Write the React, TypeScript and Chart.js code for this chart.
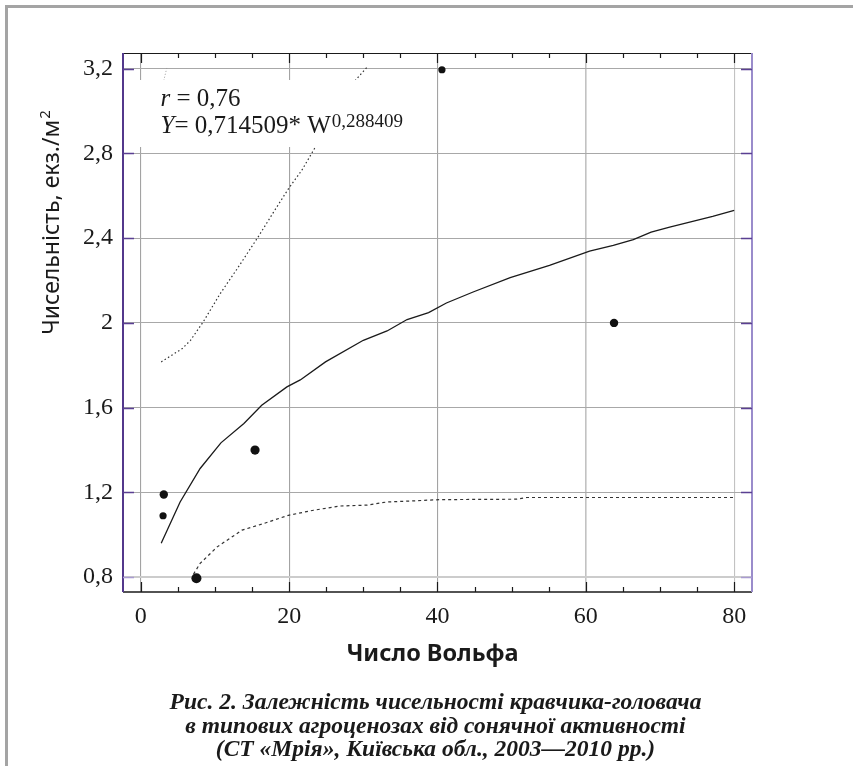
import React, { useEffect, useRef } from 'react';
import { Chart, registerables } from 'chart.js';
Chart.register(...registerables);

// Observed points: Wolf number vs. abundance
const obsW = [3.1, 3.0, 7.5, 15.4, 40.6, 63.8];
const obsY = [1.19, 1.09, 0.795, 1.4, 3.195, 2.0];
const obsR = [4.2, 3.6, 5, 4.6, 3.6, 4.2];

// Fitted curve
const fitW = [2.75, 5.3, 8.0, 10.8, 13.9, 16.3, 19.7, 21.5, 24.9, 30.0, 33.2, 35.9, 38.8, 41.2, 44.8, 49.8, 55.1, 60.5, 63.7, 66.4, 68.8, 71.3, 77.1, 80.0];
const fitY = [0.96, 1.155, 1.313, 1.434, 1.525, 1.611, 1.698, 1.731, 1.816, 1.918, 1.962, 2.016, 2.049, 2.094, 2.146, 2.214, 2.272, 2.339, 2.366, 2.393, 2.429, 2.452, 2.503, 2.531];

// Upper confidence band
const upW = [2.75, 5.6, 6.7, 8.4, 10.7, 13.0, 15.75, 17.9, 19.9, 21.7, 23.4, 28.9, 30.5];
const upY = [1.816, 1.879, 1.918, 2.004, 2.138, 2.256, 2.402, 2.523, 2.633, 2.72, 2.822, 3.144, 3.207];

// Lower confidence band
const loW = [7.1, 8.0, 10.3, 13.65, 16.55, 19.9, 23.3, 26.9, 30.5, 33.2, 36.7, 40.3, 50.7, 52.0, 80.0];
const loY = [0.814, 0.865, 0.943, 1.022, 1.053, 1.092, 1.116, 1.136, 1.14, 1.155, 1.16, 1.166, 1.168, 1.176, 1.176];

// Faint dotted fragment near top-left
const faintW = [3.0, 3.55];
const faintY = [3.13, 3.21];

const xTicks = [0, 20, 40, 60, 80];
const xTickLabels = ['0', '20', '40', '60', '80'];
const xMinorTicks = [5, 10, 15, 25, 30, 35, 45, 50, 55, 65, 70, 75];
const yTicks = [0.8, 1.2, 1.6, 2.0, 2.4, 2.8, 3.2];
const yTickLabels = ['0,8', '1,2', '1,6', '2', '2,4', '2,8', '3,2'];

const xTitle = 'Число Вольфа';
const yTitle = 'Чисельність, екз./м';
const yTitleSup = '2';
const annR = ['r', ' = 0,76'];
const annY = ['Y', '= 0,714509* W', '0,288409'];
const caption = [
  'Рис. 2. Залежність чисельності кравчика-головача',
  'в типових агроценозах від сонячної активності',
  '(СТ «Мрія», Київська обл., 2003—2010 рр.)',
];

const SERIF = "'Liberation Serif', 'Times New Roman', serif";
const SANS = "'Noto Sans', 'DejaVu Sans', sans-serif";

const pts = (xs: number[], ys: number[]) => xs.map((v, i) => ({ x: v, y: ys[i] }));

const decor = {
  id: 'decor',
  afterDatasetsDraw(chart: any) {
    const { ctx, chartArea: a, scales } = chart;
    const x = scales.x;
    const y = scales.y;
    ctx.save();
    // white box behind annotation
    ctx.fillStyle = '#ffffff';
    ctx.fillRect(a.left + 5, a.top + 27, 285, 67);
    // annotation text
    const x0 = a.left + 37.5;
    const b1 = a.top + 52.5;
    const b2 = a.top + 79.5;
    ctx.fillStyle = '#1a1a1a';
    ctx.textBaseline = 'alphabetic';
    ctx.textAlign = 'left';
    ctx.font = `italic 25px ${SERIF}`;
    ctx.fillText(annR[0], x0, b1);
    let w = ctx.measureText(annR[0]).width;
    ctx.font = `25px ${SERIF}`;
    ctx.fillText(annR[1], x0 + w, b1);
    ctx.font = `italic 25px ${SERIF}`;
    ctx.fillText(annY[0], x0, b2);
    w = ctx.measureText(annY[0]).width;
    ctx.font = `25px ${SERIF}`;
    ctx.fillText(annY[1], x0 + w, b2);
    w += ctx.measureText(annY[1]).width;
    ctx.font = `19px ${SERIF}`;
    ctx.fillText(annY[2], x0 + w + 1, b2 - 6);

    // axis lines
    ctx.lineCap = 'butt';
    ctx.strokeStyle = '#1a1a1a';
    ctx.lineWidth = 1.5;
    ctx.beginPath();
    ctx.moveTo(a.left, a.bottom);
    ctx.lineTo(a.right, a.bottom);
    ctx.stroke();
    ctx.lineWidth = 1;
    ctx.beginPath();
    ctx.moveTo(a.left, a.top + 0.5);
    ctx.lineTo(a.right, a.top + 0.5);
    ctx.stroke();
    ctx.strokeStyle = '#53388c';
    ctx.lineWidth = 2;
    ctx.beginPath();
    ctx.moveTo(a.left, a.top);
    ctx.lineTo(a.left, a.bottom);
    ctx.stroke();
    ctx.strokeStyle = '#9a8ccb';
    ctx.beginPath();
    ctx.moveTo(a.right, a.top);
    ctx.lineTo(a.right, a.bottom);
    ctx.stroke();

    // x ticks (bottom up, top down)
    ctx.strokeStyle = '#1a1a1a';
    ctx.lineWidth = 1.2;
    const drawX = (v: number, len: number) => {
      const px = Math.round(x.getPixelForValue(v)) + 0.5;
      ctx.beginPath();
      ctx.moveTo(px, a.bottom);
      ctx.lineTo(px, a.bottom - len);
      ctx.moveTo(px, a.top);
      ctx.lineTo(px, a.top + len);
      ctx.stroke();
    };
    xTicks.forEach((v) => drawX(v, 10));
    xMinorTicks.forEach((v) => drawX(v, 5));
    // y ticks (purple)
    ctx.lineWidth = 1.5;
    yTicks.forEach((v) => {
      const py = Math.round(y.getPixelForValue(v)) + 0.5;
      ctx.strokeStyle = v === 0.8 ? '#a99bd0' : '#5a3f92';
      ctx.beginPath();
      ctx.moveTo(a.left, py);
      ctx.lineTo(a.left + 11, py);
      ctx.moveTo(a.right, py);
      ctx.lineTo(a.right - 11, py);
      ctx.stroke();
    });
    ctx.restore();
  },
  afterDraw(chart: any) {
    const { ctx, chartArea: a } = chart;
    ctx.save();
    ctx.fillStyle = '#1a1a1a';
    // x title
    ctx.font = `bold 23.5px ${SANS}`;
    ctx.textAlign = 'center';
    ctx.textBaseline = 'middle';
    ctx.fillText(xTitle, (a.left + a.right) / 2 - 5, a.bottom + 62);
    // y title (rotated)
    ctx.save();
    ctx.translate(51, 223);
    ctx.rotate(-Math.PI / 2);
    ctx.font = `23px ${SANS}`;
    const w1 = ctx.measureText(yTitle).width;
    ctx.font = `15px ${SANS}`;
    const w2 = ctx.measureText(yTitleSup).width;
    const start = -(w1 + w2) / 2;
    ctx.textAlign = 'left';
    ctx.textBaseline = 'alphabetic';
    ctx.font = `23px ${SANS}`;
    ctx.fillText(yTitle, start, 8);
    ctx.font = `15px ${SANS}`;
    ctx.fillText(yTitleSup, start + w1 + 1, -1);
    ctx.restore();
    // caption
    ctx.font = `bold italic 23.5px ${SERIF}`;
    ctx.textAlign = 'center';
    ctx.textBaseline = 'middle';
    const cx = (a.left + a.right) / 2 - 2;
    caption.forEach((line, i) => {
      ctx.fillText(line, cx, a.bottom + 111 + i * 23.5);
    });
    ctx.restore();
  },
};

export default function App() {
  const ref = useRef<HTMLCanvasElement>(null);
  useEffect(() => {
    if (!ref.current) return;
    const chart = new Chart(ref.current, {
      type: 'scatter',
      data: {
        datasets: [
          {
            label: 'faint',
            data: pts(faintW, faintY),
            showLine: true,
            borderColor: '#9a9a9a',
            borderWidth: 1,
            borderDash: [1, 2],
            pointRadius: 0,
            fill: false,
          },
          {
            label: 'upper',
            data: pts(upW, upY),
            showLine: true,
            borderColor: '#333333',
            borderWidth: 1.2,
            borderDash: [1.5, 2.5],
            pointRadius: 0,
            fill: false,
          },
          {
            label: 'lower',
            data: pts(loW, loY),
            showLine: true,
            borderColor: '#333333',
            borderWidth: 1.2,
            borderDash: [3, 3],
            pointRadius: 0,
            fill: false,
          },
          {
            label: 'fit',
            data: pts(fitW, fitY),
            showLine: true,
            borderColor: '#1a1a1a',
            borderWidth: 1.3,
            pointRadius: 0,
            fill: false,
          },
          {
            label: 'observed',
            data: pts(obsW, obsY),
            showLine: false,
            backgroundColor: '#111111',
            borderColor: '#111111',
            borderWidth: 0,
            pointRadius: obsR,
          },
        ],
      },
      options: {
        responsive: false,
        animation: false,
        devicePixelRatio: 1,
        layout: { padding: { left: 0, top: 53, right: 101, bottom: 0 } },
        plugins: { legend: { display: false }, tooltip: { enabled: false } },
        scales: {
          x: {
            type: 'linear',
            min: -2.4,
            max: 82.4,
            afterFit: (s: any) => {
              s.height = 174;
            },
            afterBuildTicks: (s: any) => {
              s.ticks = xTicks.map((v) => ({ value: v }));
            },
            border: { display: false },
            grid: {
              drawTicks: false,
              color: (c: any) => (c.tick && c.tick.value >= 60 ? '#c2c2c2' : '#a3a3a3'),
              lineWidth: (c: any) => (c.tick && c.tick.value === 60 ? 1.6 : 1.1),
            },
            ticks: {
              padding: 10,
              maxRotation: 0,
              autoSkip: false,
              color: '#1a1a1a',
              font: { family: SERIF, size: 24 },
              callback: (_v: any, i: number) => xTickLabels[i],
            },
          },
          y: {
            type: 'linear',
            min: 0.73,
            max: 3.274,
            afterFit: (s: any) => {
              s.width = 123;
            },
            afterBuildTicks: (s: any) => {
              s.ticks = yTicks.map((v) => ({ value: v }));
            },
            border: { display: false },
            grid: {
              drawTicks: false,
              color: (c: any) => (c.tick && c.tick.value === 0.8 ? '#cccccc' : '#a8a8a8'),
              lineWidth: (c: any) => (c.tick && c.tick.value === 0.8 ? 2 : 1.1),
            },
            ticks: {
              padding: 10,
              autoSkip: false,
              color: '#1a1a1a',
              font: { family: SERIF, size: 24 },
              callback: (_v: any, i: number) => yTickLabels[i],
            },
          },
        },
      },
      plugins: [decor],
    } as any);
    return () => chart.destroy();
  }, []);
  return (
    <div
      style={{
        position: 'fixed',
        left: 0,
        top: 0,
        width: 853,
        height: 766,
        background: '#ffffff',
        overflow: 'hidden',
      }}
    >
      <div
        style={{
          position: 'absolute',
          left: 5,
          top: 5,
          right: 0,
          bottom: 0,
          borderTop: '3px solid #a4a4a4',
          borderLeft: '3px solid #a4a4a4',
        }}
      />
      <canvas
        ref={ref}
        width={853}
        height={766}
        style={{ position: 'absolute', left: 0, top: 0, width: 853, height: 766 }}
      />
    </div>
  );
}
